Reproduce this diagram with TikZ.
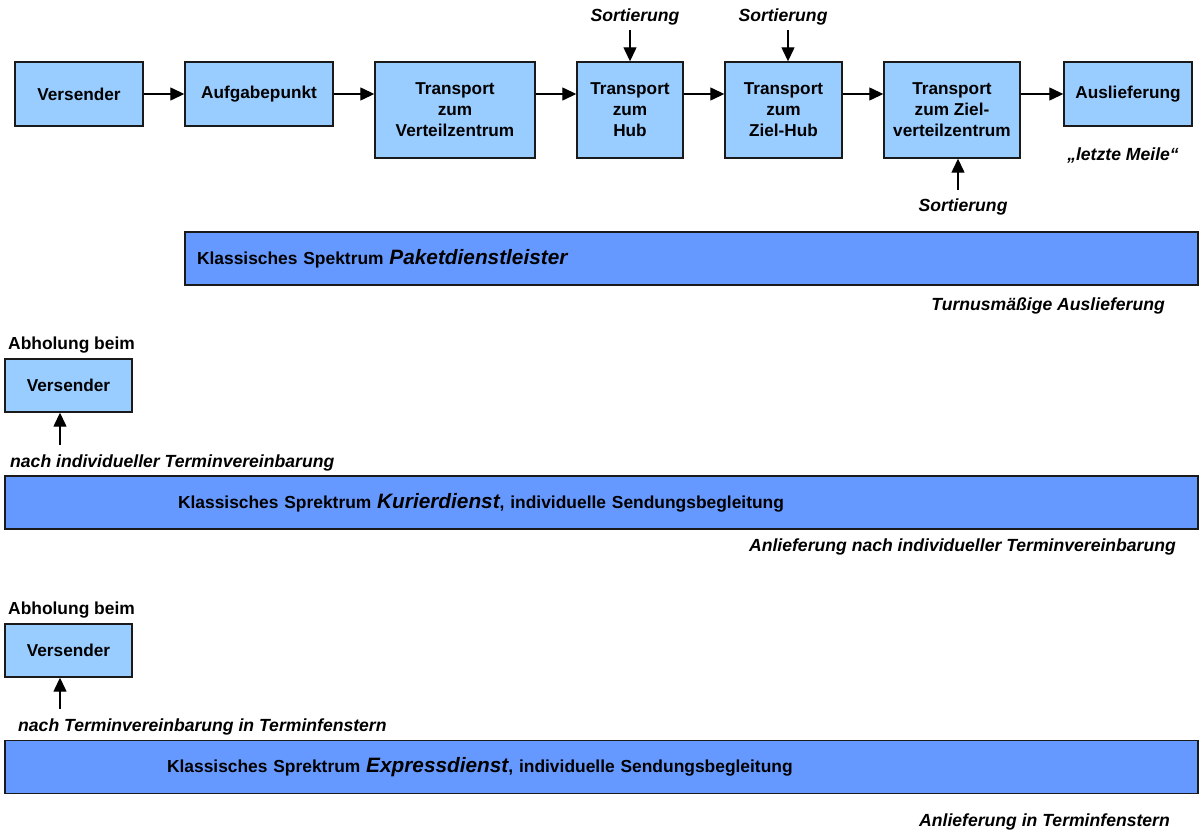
\documentclass[tikz,border=0pt]{standalone}
\usepackage{fontspec}
\setmainfont{Liberation Sans}
\usetikzlibrary{arrows.meta}
\definecolor{boxblue}{HTML}{99CCFF}
\definecolor{barblue}{HTML}{6699FF}
\definecolor{edge}{HTML}{1A1A1A}
\begin{document}
\begin{tikzpicture}[x=1pt,y=-1pt,
  stepbox/.style={draw=edge,line width=1.4pt,fill=boxblue,align=center,
    inner sep=0pt,font=\fontsize{17.2}{21}\selectfont\bfseries},
  barbox/.style={draw=edge,line width=1.4pt,fill=barblue,align=left,
    minimum height=53pt,inner ysep=0pt,font=\fontsize{17.4}{21}\selectfont\bfseries},
  note/.style={inner sep=0pt,font=\fontsize{17.6}{21}\selectfont\bfseries\itshape},
  head/.style={inner sep=0pt,font=\fontsize{17.4}{21}\selectfont\bfseries},
  arr/.style={line width=1.3pt,-{Triangle[length=14pt,width=13pt]}}]
\useasboundingbox (0,0) rectangle (1200,832);

% process chain of the parcel service
\node[stepbox,minimum width=128pt,minimum height=64pt] (vers) at (79,94) {Versender};
\node[stepbox,minimum width=148pt,minimum height=64pt] (aufg) at (259,94) {Aufgabepunkt};
\node[stepbox,minimum width=160pt,minimum height=96pt] (tvz) at (455,110) {Transport\\zum\\Verteilzentrum};
\node[stepbox,minimum width=106pt,minimum height=96pt] (thub) at (630,110) {Transport\\zum\\Hub};
\node[stepbox,minimum width=117pt,minimum height=96pt] (tzhub) at (783.5,110) {Transport\\zum\\Ziel-Hub};
\node[stepbox,minimum width=136pt,minimum height=96pt] (tzvz) at (952,110) {Transport\\zum Ziel-\\verteilzentrum};
\node[stepbox,minimum width=128pt,minimum height=64pt] (ausl) at (1128,94) {Auslieferung};

\draw[arr] (vers.east) -- (aufg.west);
\draw[arr] (aufg.east) -- (aufg.east -| tvz.west);
\draw[arr] (tvz.east |- vers.east) -- (thub.west |- vers.east);
\draw[arr] (thub.east |- vers.east) -- (tzhub.west |- vers.east);
\draw[arr] (tzhub.east |- vers.east) -- (tzvz.west |- vers.east);
\draw[arr] (tzvz.east |- vers.east) -- (ausl.west);

% sorting steps
\node[note] (sort1) at (635,17) {Sortierung};
\node[note] (sort2) at (783,17) {Sortierung};
\node[note] (sort3) at (963,207) {Sortierung};
\coordinate (s1a) at (630,30);
\coordinate (s2a) at (788,30);
\coordinate (s3a) at (958,190);
\draw[arr] (s1a) -- (s1a |- thub.north);
\draw[arr] (s2a) -- (s2a |- tzhub.north);
\draw[arr] (s3a) -- (s3a |- tzvz.south);

\node[note] (meile) at (1123,155) {„letzte Meile“};

% parcel service band
\node[barbox,minimum width=1013pt,inner xsep=12pt,text width=989pt] (paket) at (691.5,258.5)
  {Klassisches Spektrum {\fontsize{20.8}{24}\selectfont\itshape Paketdienstleister}};
\node[note,anchor=east] (turnus) at (1165,306) {Turnusmäßige Auslieferung};

% courier service
\node[head,anchor=west] (abh1) at (8,345) {Abholung beim};
\node[stepbox,minimum width=127pt,minimum height=53pt] (vers2) at (68.5,385.5) {Versender};
\coordinate (k1a) at (60,445);
\draw[arr] (k1a) -- (k1a |- vers2.south);
\node[note,anchor=west] (term1) at (10,463) {nach individueller Terminvereinbarung};
\node[barbox,minimum width=1193pt,inner xsep=173pt,text width=847pt] (kurier) at (601.5,502.5)
  {Klassisches Sprektrum {\fontsize{20.8}{24}\selectfont\itshape Kurierdienst}, individuelle Sendungsbegleitung};
\node[note,anchor=east] (anl1) at (1176,547) {Anlieferung nach individueller Terminvereinbarung};

% express service
\node[head,anchor=west] (abh2) at (8,610) {Abholung beim};
\node[stepbox,minimum width=127pt,minimum height=53pt] (vers3) at (68.5,650.5) {Versender};
\coordinate (e1a) at (60,709);
\draw[arr] (e1a) -- (e1a |- vers3.south);
\node[note,anchor=west] (term2) at (18,727) {nach Terminvereinbarung in Terminfenstern};
\node[barbox,minimum width=1193pt,inner xsep=162pt,text width=869pt] (express) at (601.5,767)
  {Klassisches Sprektrum {\fontsize{20.8}{24}\selectfont\itshape Expressdienst}, individuelle Sendungsbegleitung};
\node[note,anchor=east] (anl2) at (1170,822) {Anlieferung in Terminfenstern};
\end{tikzpicture}
\end{document}
